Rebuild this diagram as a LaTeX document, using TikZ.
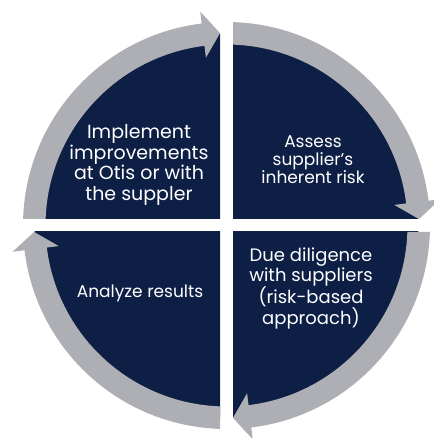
\documentclass[tikz,border=0pt]{standalone}
\usepackage{fontspec}
\setmainfont{Poppins}
\definecolor{navy}{RGB}{14,31,69}
\definecolor{ringgray}{RGB}{173,175,180}
\begin{document}
\begin{tikzpicture}[x=1pt,y=1pt,
    sector/.style={fill=navy},
    ring arrow/.style={fill=ringgray},
    step text/.style={text=white,align=center,
      font=\fontsize{18}{20}\selectfont}]
  \useasboundingbox (0,0) rectangle (433,438);
  \coordinate (c) at (226.5,212.5);
  % dark quarters
  \begin{scope}
    \clip (0,219) rectangle (220,438);
    \fill[sector] (c) circle[radius=192pt];
  \end{scope}
  \begin{scope}
    \clip (233,219) rectangle (433,438);
    \fill[sector] (c) circle[radius=192pt];
  \end{scope}
  \begin{scope}
    \clip (233,0) rectangle (433,206);
    \fill[sector] (c) circle[radius=192pt];
  \end{scope}
  \begin{scope}
    \clip (0,0) rectangle (220,206);
    \fill[sector] (c) circle[radius=192pt];
  \end{scope}
  % ring arrows, clockwise
  \begin{scope}[shift={(c)}]
    \fill[ring arrow] (178.17:203.5pt) arc[start angle=178.17, end angle=97, radius=203.5pt]
      -- (97:215.5pt) -- (91.93:192.5pt) -- (97:169pt) -- (97:181pt)
      arc[start angle=97, end angle=177.94, radius=181pt] -- cycle;
    \fill[ring arrow] (88.17:203.5pt) arc[start angle=88.17, end angle=7, radius=203.5pt]
      -- (7:215.5pt) -- (1.93:192.5pt) -- (7:169pt) -- (7:181pt)
      arc[start angle=7, end angle=87.94, radius=181pt] -- cycle;
    \fill[ring arrow] (-1.83:203.5pt) arc[start angle=-1.83, end angle=-83, radius=203.5pt]
      -- (-83:215.5pt) -- (-88.07:192.5pt) -- (-83:169pt) -- (-83:181pt)
      arc[start angle=-83, end angle=-2.06, radius=181pt] -- cycle;
    \fill[ring arrow] (-91.83:203.5pt) arc[start angle=-91.83, end angle=-173, radius=203.5pt]
      -- (-173:215.5pt) -- (-178.07:192.5pt) -- (-173:169pt) -- (-173:181pt)
      arc[start angle=-173, end angle=-92.06, radius=181pt] -- cycle;
  \end{scope}
  % step labels
  \node[step text, font=\fontsize{19}{20.5}\selectfont] (implement) at (139,273)
    {Implement\\improvements\\at Otis or with\\the suppler};
  \node[step text, font=\fontsize{17}{18}\selectfont] (assess) at (313,278)
    {Assess\\supplier’s\\inherent risk};
  \node[step text] (diligence) at (311,149.5)
    {Due diligence\\with suppliers\\(risk-based\\approach)};
  \node[step text, font=\fontsize{17}{20}\selectfont] (analyze) at (140,144.5) {Analyze results};
\end{tikzpicture}
\end{document}
